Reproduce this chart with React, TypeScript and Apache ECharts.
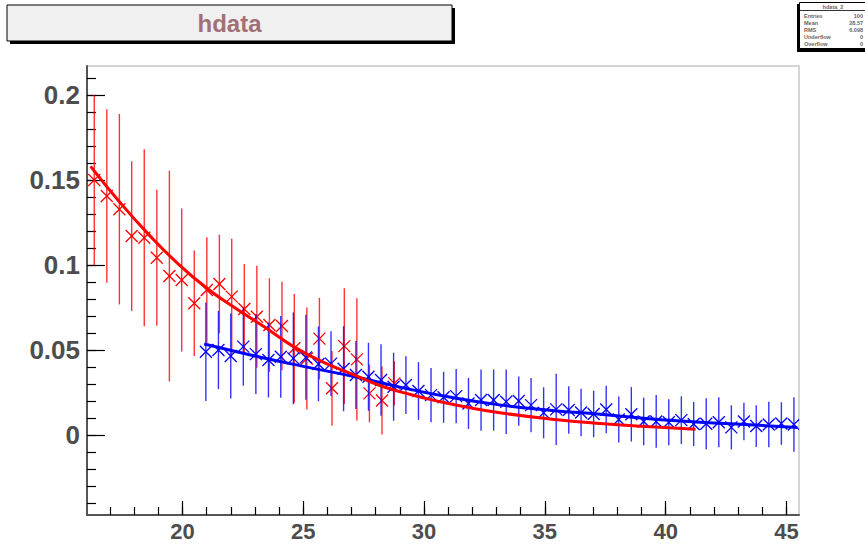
import React, { useEffect, useRef } from "react";
import * as echarts from "echarts";

// ---- data ----
const redX = [16.35, 16.87, 17.39, 17.9, 18.42, 18.94, 19.46, 19.97, 20.49, 21.01, 21.53, 22.04, 22.56, 23.08, 23.6, 24.12, 24.63, 25.15, 25.67, 26.19, 26.7, 27.22, 27.74, 28.26, 28.77];
const redY = [0.15, 0.1406, 0.1328, 0.117, 0.116, 0.1043, 0.0935, 0.0912, 0.0775, 0.0853, 0.0888, 0.0814, 0.0741, 0.0696, 0.0647, 0.0641, 0.051, 0.045, 0.0567, 0.0275, 0.0523, 0.0445, 0.0245, 0.0203, 0.0304];
const redErr = [0.05, 0.051, 0.056, 0.044, 0.052, 0.04, 0.062, 0.042, 0.031, 0.031, 0.029, 0.034, 0.0265, 0.03, 0.0275, 0.026, 0.032, 0.03, 0.024, 0.022, 0.034, 0.036, 0.017, 0.02, 0.013];

const blueX = [20.97, 21.49, 22.0, 22.52, 23.04, 23.56, 24.07, 24.59, 25.11, 25.63, 26.15, 26.67, 27.18, 27.7, 28.22, 28.74, 29.25, 29.77, 30.29, 30.81, 31.33, 31.84, 32.36, 32.88, 33.4, 33.92, 34.43, 34.95, 35.47, 35.99, 36.5, 37.02, 37.54, 38.06, 38.58, 39.09, 39.61, 40.13, 40.65, 41.16, 41.68, 42.2, 42.72, 43.24, 43.75, 44.27, 44.79, 45.31];
const blueY = [0.049, 0.05, 0.0465, 0.052, 0.0476, 0.0441, 0.046, 0.0451, 0.0457, 0.0418, 0.042, 0.039, 0.0353, 0.0343, 0.0324, 0.0284, 0.0294, 0.0259, 0.0235, 0.0222, 0.0229, 0.0186, 0.0206, 0.0206, 0.0196, 0.02, 0.0176, 0.0131, 0.0151, 0.0147, 0.0133, 0.0124, 0.015, 0.0092, 0.0122, 0.008, 0.008, 0.0075, 0.0088, 0.0065, 0.0067, 0.0075, 0.0045, 0.008, 0.0053, 0.0062, 0.0068, 0.0062];
const blueErr = [0.029, 0.023, 0.025, 0.023, 0.0235, 0.022, 0.024, 0.027, 0.025, 0.022, 0.019, 0.025, 0.02, 0.02, 0.021, 0.02, 0.017, 0.017, 0.016, 0.015, 0.016, 0.015, 0.018, 0.018, 0.019, 0.0145, 0.016, 0.015, 0.021, 0.014, 0.014, 0.0137, 0.014, 0.0135, 0.016, 0.014, 0.0155, 0.0135, 0.014, 0.013, 0.015, 0.0147, 0.013, 0.011, 0.0123, 0.0134, 0.0125, 0.016];

const redFitX = [16.2, 17.4, 18.6, 19.8, 21.0, 22.2, 23.4, 24.6, 25.8, 27.0, 28.2, 29.4, 30.6, 31.8, 33.2, 35.2, 37.3, 39.2, 41.24];
const redFitY = [0.158, 0.137, 0.118, 0.101, 0.0865, 0.0745, 0.0635, 0.052, 0.043, 0.036, 0.029, 0.024, 0.0198, 0.0163, 0.013, 0.0095, 0.0068, 0.005, 0.0034];
const blueFitX = [20.9, 23.0, 25.0, 27.0, 29.0, 31.1, 33.2, 35.3, 37.3, 39.8, 42.5, 45.45];
const blueFitY = [0.0535, 0.0465, 0.0404, 0.0347, 0.0282, 0.0222, 0.0176, 0.0145, 0.0122, 0.009, 0.0068, 0.0045];

const xMajorTicks = [20, 25, 30, 35, 40, 45];
const xMinorTicks = [17, 18, 19, 20, 21, 22, 23, 24, 25, 26, 27, 28, 29, 30, 31, 32, 33, 34, 35, 36, 37, 38, 39, 40, 41, 42, 43, 44, 45];
const yMajorTicks = [0, 0.05, 0.1, 0.15, 0.2];
const yMinorTicks = [-0.04, -0.03, -0.02, -0.01, 0, 0.01, 0.02, 0.03, 0.04, 0.05, 0.06, 0.07, 0.08, 0.09, 0.1, 0.11, 0.12, 0.13, 0.14, 0.15, 0.16, 0.17, 0.18, 0.19, 0.2, 0.21];

const statsLabels = ["Entries", "Mean", "RMS", "Underflow", "Overflow"];
const statsValues = ["100", "28.57", "6.098", "0", "0"];

const X_MIN = 16.05;
const X_MAX = 45.52;
const Y_MIN = -0.047;
const Y_MAX = 0.217;

function errSeries(xs: number[], ys: number[], es: number[], color: string) {
  return {
    type: "custom",
    xAxisIndex: 0,
    yAxisIndex: 0,
    clip: true,
    data: xs.map((x, i) => [x, ys[i], es[i]]),
    renderItem: (params: any, api: any) => {
      const x = api.value(0);
      const y = api.value(1);
      const e = api.value(2);
      const p = api.coord([x, y]);
      const t = api.coord([x, y + e]);
      const b = api.coord([x, y - e]);
      const h = 6;
      return {
        type: "group",
        children: [
          {
            type: "line",
            shape: { x1: p[0], y1: t[1], x2: p[0], y2: b[1] },
            style: { stroke: color, lineWidth: 1.4, opacity: 0.8 },
          },
          {
            type: "line",
            shape: { x1: p[0] - h, y1: p[1] - h, x2: p[0] + h, y2: p[1] + h },
            style: { stroke: color, lineWidth: 1.3 },
          },
          {
            type: "line",
            shape: { x1: p[0] - h, y1: p[1] + h, x2: p[0] + h, y2: p[1] - h },
            style: { stroke: color, lineWidth: 1.3 },
          },
        ],
      };
    },
  };
}

export default function App() {
  const ref = useRef<HTMLDivElement>(null);
  useEffect(() => {
    if (!ref.current) return;
    const chart = echarts.init(ref.current, null, { renderer: "svg" });
    const axisColor = "#555555";
    const labelColor = "#4d4d4d";
    const font = "Liberation Sans, Arial, Helvetica, sans-serif";

    const statsTexts: any[] = [];
    statsLabels.forEach((l, i) => {
      const y = 15.5 + i * 7;
      statsTexts.push({
        type: "text",
        x: 804,
        y: y - 3,
        style: { text: l, fill: "#666", font: "bold 5.5px " + font },
      });
      statsTexts.push({
        type: "text",
        x: 863,
        y: y - 3,
        style: { text: statsValues[i], fill: "#666", font: "bold 5.5px " + font, textAlign: "right" },
      });
    });

    chart.setOption({
      animation: false,
      backgroundColor: "#ffffff",
      grid: {
        left: 87,
        top: 66,
        right: 66,
        bottom: 29,
        show: true,
        borderColor: "#c8c8c8",
        borderWidth: 1.5,
        backgroundColor: "transparent",
      },
      xAxis: [
        {
          type: "value",
          min: X_MIN,
          max: X_MAX,
          position: "bottom",
          axisLine: { show: true, onZero: false, lineStyle: { color: axisColor, width: 2 } },
          axisTick: { show: true, inside: true, length: 14, customValues: xMajorTicks, lineStyle: { color: "#000", width: 1.2 } },
          axisLabel: {
            customValues: xMajorTicks,
            color: labelColor,
            fontFamily: font,
            fontWeight: "bold",
            fontSize: 22,
            margin: 5,
          },
          splitLine: { show: false },
        },
        {
          type: "value",
          min: X_MIN,
          max: X_MAX,
          position: "bottom",
          axisLine: { show: false, onZero: false },
          axisTick: { show: true, inside: true, length: 8, customValues: xMinorTicks, lineStyle: { color: "#000", width: 1.2 } },
          axisLabel: { show: false },
          splitLine: { show: false },
        },
      ],
      yAxis: [
        {
          type: "value",
          min: Y_MIN,
          max: Y_MAX,
          position: "left",
          axisLine: { show: true, onZero: false, lineStyle: { color: axisColor, width: 2 } },
          axisTick: { show: true, inside: true, length: 18, customValues: yMajorTicks, lineStyle: { color: "#000", width: 1.2 } },
          axisLabel: {
            customValues: yMajorTicks,
            color: labelColor,
            fontFamily: font,
            fontWeight: "bold",
            fontSize: 26,
            margin: 7,
          },
          splitLine: { show: false },
        },
        {
          type: "value",
          min: Y_MIN,
          max: Y_MAX,
          position: "left",
          axisLine: { show: false, onZero: false },
          axisTick: { show: true, inside: true, length: 9, customValues: yMinorTicks, lineStyle: { color: "#000", width: 1.2 } },
          axisLabel: { show: false },
          splitLine: { show: false },
        },
      ],
      series: [
        errSeries(redX, redY, redErr, "#ff0000"),
        errSeries(blueX, blueY, blueErr, "#0000ff"),
        {
          type: "line",
          xAxisIndex: 0,
          yAxisIndex: 0,
          data: blueFitX.map((x, i) => [x, blueFitY[i]]),
          smooth: true,
          showSymbol: false,
          symbol: "none",
          lineStyle: { color: "#0000ff", width: 3 },
          z: 3,
        },
        {
          type: "line",
          xAxisIndex: 0,
          yAxisIndex: 0,
          data: redFitX.map((x, i) => [x, redFitY[i]]),
          smooth: true,
          showSymbol: false,
          symbol: "none",
          lineStyle: { color: "#ff0000", width: 3 },
          z: 3,
        },
      ],
      graphic: [
        // title box
        { type: "rect", shape: { x: 10, y: 8, width: 445, height: 36 }, style: { fill: "#000" }, silent: true },
        { type: "rect", shape: { x: 7, y: 5, width: 445, height: 36 }, style: { fill: "#f0f0f0", stroke: "#000", lineWidth: 1 }, silent: true },
        {
          type: "text",
          x: 229.5,
          y: 23,
          style: { text: "hdata", fill: "#a07078", font: "bold 24px " + font, textAlign: "center", textVerticalAlign: "middle" },
          silent: true,
        },
        // stats box
        { type: "rect", shape: { x: 797, y: 4, width: 70, height: 48 }, style: { fill: "#000" }, silent: true },
        { type: "rect", shape: { x: 799.5, y: 2.5, width: 70, height: 46 }, style: { fill: "#ffffff", stroke: "#000", lineWidth: 1 }, silent: true },
        { type: "line", shape: { x1: 799.5, y1: 10.5, x2: 866, y2: 10.5 }, style: { stroke: "#000", lineWidth: 0.8 }, silent: true },
        {
          type: "text",
          x: 833,
          y: 4,
          style: { text: "hdata_2", fill: "#666", font: "bold 5.5px " + font, textAlign: "center" },
          silent: true,
        },
        ...statsTexts,
      ],
    });
    return () => chart.dispose();
  }, []);
  return <div ref={ref} style={{ position: "absolute", left: 0, top: 0, width: 865, height: 544 }} />;
}
